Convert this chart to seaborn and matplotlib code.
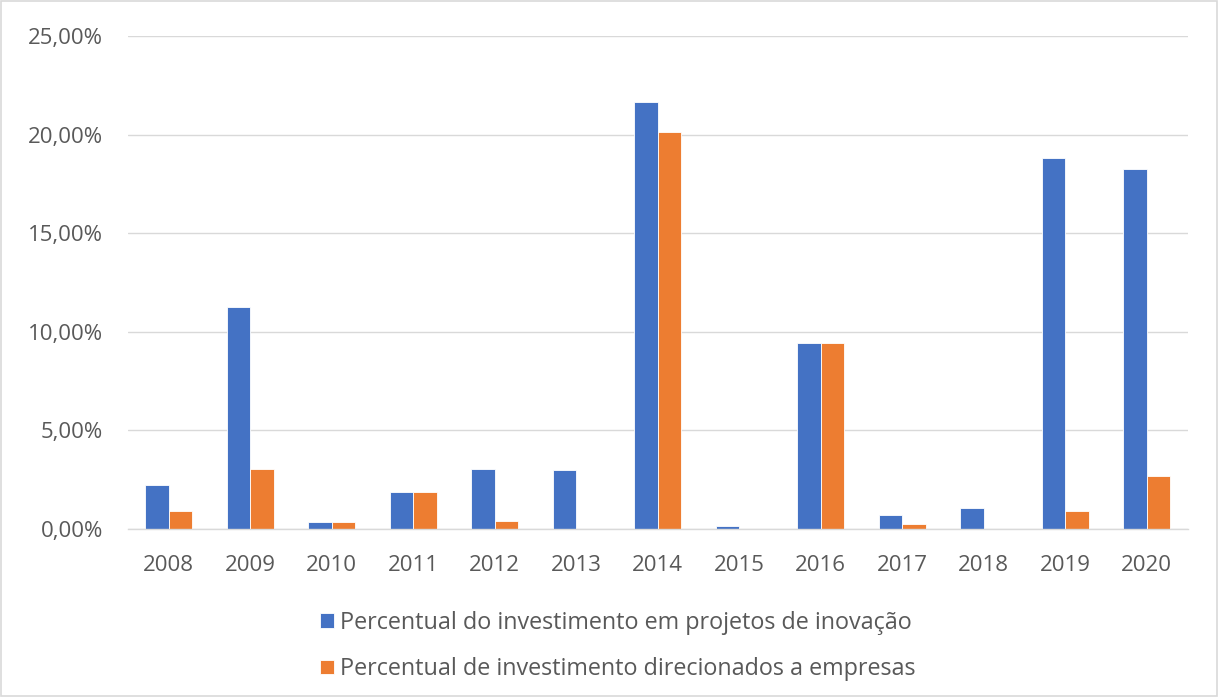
import pandas as pd
import matplotlib.pyplot as plt
import seaborn as sns
from matplotlib.ticker import FuncFormatter, MultipleLocator

anos = ['2008', '2009', '2010', '2011', '2012', '2013', '2014',
        '2015', '2016', '2017', '2018', '2019', '2020']
inovacao = [2.24, 11.24, 0.36, 1.86, 3.02, 2.97, 21.65,
            0.13, 9.42, 0.69, 1.06, 18.81, 18.25]
empresas = [0.89, 3.02, 0.36, 1.86, 0.40, 0.0, 20.13,
            0.0, 9.42, 0.28, 0.02, 0.89, 2.68]

serie1 = 'Percentual do investimento em projetos de inovação'
serie2 = 'Percentual de investimento direcionados a empresas'

df = pd.DataFrame({'Ano': anos * 2,
                   'Valor': inovacao + empresas,
                   'Serie': [serie1] * len(anos) + [serie2] * len(anos)})

sns.set_style('white')
plt.rcParams['font.family'] = ['Open Sans', 'DejaVu Sans']

fig = plt.figure(figsize=(12.18, 6.97), dpi=100)
ax = fig.add_axes([0.105, 0.241, 0.87, 0.707])

sns.barplot(data=df, x='Ano', y='Valor', hue='Serie',
            palette=['#4472C4', '#ED7D31'], saturation=1, width=0.58, gap=0,
            edgecolor='white', linewidth=0.6, ax=ax)

ax.set_ylim(0, 25)
ax.set_xlim(-0.5, len(anos) - 0.5)
ax.yaxis.set_major_locator(MultipleLocator(5))
ax.yaxis.set_major_formatter(FuncFormatter(lambda v, p: f'{v:.2f}%'.replace('.', ',')))
ax.grid(axis='y', color='#D9D9D9', linewidth=1)
ax.set_axisbelow(True)
for s in ['top', 'right', 'left']:
    ax.spines[s].set_visible(False)
ax.spines['bottom'].set_color('#D9D9D9')
ax.spines['bottom'].set_linewidth(1)
ax.tick_params(axis='both', length=0, labelsize=16, colors='#595959')
ax.tick_params(axis='x', pad=19)
ax.tick_params(axis='y', pad=18)
ax.set_xlabel('')
ax.set_ylabel('')

handles, labels = ax.get_legend_handles_labels()
ax.legend(handles, labels, loc='upper center', bbox_to_anchor=(0.462, -0.124),
          ncol=1, frameon=False, fontsize=16.8, labelcolor='#595959',
          handlelength=0.6, handleheight=0.6, handletextpad=0.25, labelspacing=0.95)

fig.patches.append(plt.Rectangle((0.001, 0.001), 0.998, 0.998, transform=fig.transFigure,
                                 fill=False, edgecolor='#D9D9D9', linewidth=1.2))

plt.savefig('out.png', dpi=100, facecolor='white')
